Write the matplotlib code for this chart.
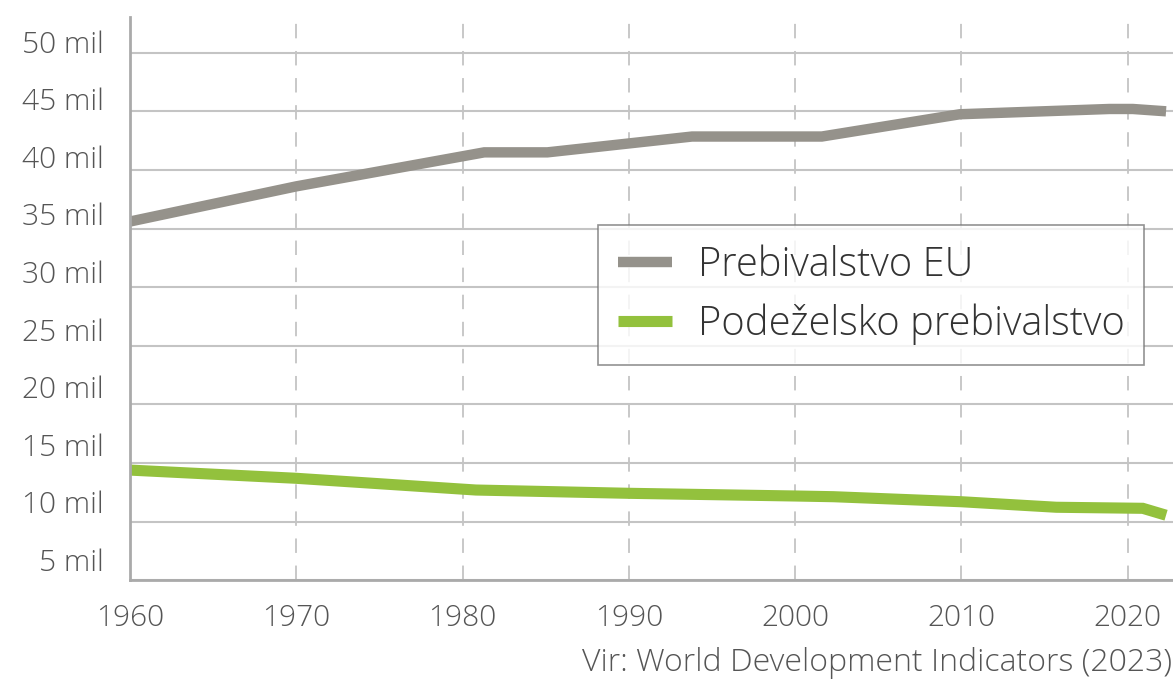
import matplotlib
matplotlib.use("Agg")
import matplotlib.pyplot as plt
import matplotlib.transforms as mtransforms

plt.rcParams['font.family'] = ['Open Sans', 'DejaVu Sans']

# prebivalstvo EU (mil) - odcitano s slike
leta_eu = [1960, 1970, 1981.3, 1985.1, 1993.8, 2001.6, 2009.9, 2018.9, 2020.3, 2022.3]
preb_eu = [35.6, 38.6, 41.5, 41.5, 42.85, 42.85, 44.75, 45.2, 45.2, 45.0]

# podezelsko prebivalstvo (mil)
leta_pod = [1960, 1970, 1980.8, 1990, 2000, 2002.3, 2010, 2015.7, 2020.9, 2022.3]
preb_pod = [14.4, 13.7, 12.7, 12.42, 12.19, 12.13, 11.7, 11.23, 11.14, 10.55]

y_ticks = [5, 10, 15, 20, 25, 30, 35, 40, 45, 50]
y_labels = [f"{v} mil" for v in y_ticks]
x_ticks = [1960, 1970, 1980, 1990, 2000, 2010, 2020]

siva = '#95928b'
zelena = '#93c13d'
txt = '#555555'

fig = plt.figure(figsize=(11.73, 6.79), dpi=100)
ax = fig.add_axes([130/1173, 1-580.3/679, 1-130/1173, (580.3-16.7)/679])

ax.plot(leta_eu, preb_eu, color=siva, lw=7.5, solid_capstyle='butt', solid_joinstyle='miter', label='Prebivalstvo EU', zorder=3)
ax.plot(leta_pod, preb_pod, color=zelena, lw=8, solid_capstyle='butt', solid_joinstyle='miter', label='Podeželsko prebivalstvo', zorder=3)

ax.set_xlim(1960, 1960 + (1173-130)/16.63)
ax.set_ylim(5, 53.07)

ax.set_yticks(y_ticks)
ax.set_yticklabels(y_labels)
ax.set_xticks(x_ticks)
ax.tick_params(axis='both', length=0, labelsize=21.5, colors=txt)
ax.tick_params(axis='y', pad=19)
ax.tick_params(axis='x', pad=17)
# napisi na osi y so malo nad crtami mreze
for v, lab in zip(y_ticks, ax.get_yticklabels()):
    lab.set_fontweight('light')
    dy = 11 + (50 - v) * 10 / 45
    lab.set_transform(lab.get_transform() + mtransforms.ScaledTranslation(0, dy/100, fig.dpi_scale_trans))
for lab in ax.get_xticklabels():
    lab.set_fontweight('light')

ax.grid(axis='y', color='#c4c4c4', lw=1.5, ls='-', zorder=1)
ax.grid(axis='x', color='#c4c4c4', lw=1.3, ls=(0, (8, 7)), zorder=1)

for s in ['top', 'right']:
    ax.spines[s].set_visible(False)
for s in ['left', 'bottom']:
    ax.spines[s].set_color('#aaaaaa')
    ax.spines[s].set_linewidth(2)
    ax.spines[s].set_zorder(4)

leg = ax.legend(loc='upper left', bbox_to_anchor=((598-130)/1043, 1-(225-16.7)/563.6),
                fontsize=28.7, frameon=True, fancybox=False, handlelength=1.35,
                handletextpad=0.65, borderpad=0.5, labelspacing=0.45, borderaxespad=0)
leg.get_frame().set_edgecolor('#777777')
leg.get_frame().set_linewidth(1.2)
for t in leg.get_texts():
    t.set_color('#333333')
    t.set_fontweight('light')

fig.text(0.999, 0.023, 'Vir: World Development Indicators (2023)', ha='right', va='center',
         fontsize=23, color=txt, fontweight='light')

fig.savefig('out.png', dpi=100)
